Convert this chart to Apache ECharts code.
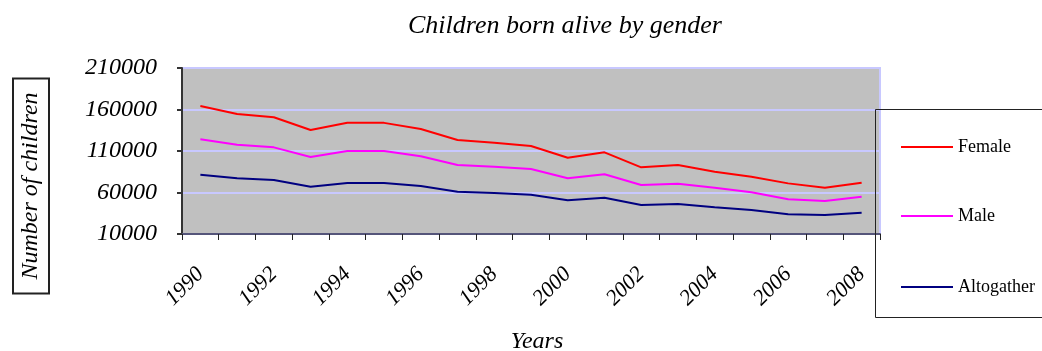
<!DOCTYPE html>
<html>
<head>
<meta charset="utf-8">
<script src="https://cdn.jsdelivr.net/npm/echarts@6/dist/echarts.min.js"></script>
<style>html,body{margin:0;padding:0;background:#fff}#c{width:1042px;height:351px}</style>
</head>
<body>
<div id="c"></div>
<script>
const years = ['1990','1991','1992','1993','1994','1995','1996','1997','1998','1999','2000','2001','2002','2003','2004','2005','2006','2007','2008'];
const female = [164200,154600,150600,135300,144100,143900,136500,123300,120000,116000,101900,108400,90300,93100,85100,79000,71000,65800,71800];
const male = [124100,117600,114400,102800,110000,110000,103600,93100,91100,88300,77100,81900,69000,70600,65800,60200,51800,49800,54900];
const altogather = [81500,77100,75100,67000,71400,71400,67800,61000,59400,57300,50600,53700,44900,46100,42100,38900,33700,32900,35700];
const yTicks = [10000, 60000, 110000, 160000, 210000];

const serif = '"Liberation Serif", "Times New Roman", serif';
const chart = echarts.init(document.getElementById('c'), null, {renderer: 'canvas'});
chart.setOption({
  animation: false,
  backgroundColor: '#fff',
  title: {
    text: 'Children born alive by gender',
    left: 403, top: 8,
    textStyle: {fontFamily: serif, fontStyle: 'italic', fontWeight: 'normal', fontSize: 26, color: '#000'}
  },
  grid: {left: 182, top: 68, right: 162, bottom: 117, outerBoundsMode: 'none', containLabel: false,
         show: true, backgroundColor: '#c0c0c0', borderColor: '#c8c8ff', borderWidth: 2},
  legend: [
    {data: ['Female'], orient: 'vertical', left: 896, top: 133},
    {data: ['Male'], orient: 'vertical', left: 896, top: 202},
    {data: ['Altogather'], orient: 'vertical', left: 896, top: 273}
  ].map(l => Object.assign(l, {icon: 'rect', itemWidth: 52, itemHeight: 2, textStyle: {fontFamily: serif, fontSize: 18, color: '#000', lineHeight: 18}})),
  xAxis: {
    type: 'category', data: years, boundaryGap: true,
    name: 'Years', nameLocation: 'middle', nameGap: 96,
    nameTextStyle: {fontFamily: serif, fontStyle: 'italic', fontSize: 24, color: '#000', padding: [0, 0, 0, 12]},
    axisLine: {lineStyle: {color: '#55557a', width: 2}},
    axisTick: {show: true, interval: 0, length: 6, lineStyle: {color: '#222', width: 1}},
    axisLabel: {interval: 1, rotate: 45, margin: 37, fontFamily: serif, fontStyle: 'italic', fontSize: 22, color: '#000'},
    splitLine: {show: false}
  },
  yAxis: {
    type: 'value', min: yTicks[0], max: yTicks[yTicks.length - 1], interval: yTicks[1] - yTicks[0],
    axisLine: {show: true, lineStyle: {color: '#333', width: 2}},
    axisTick: {show: true, length: 5, lineStyle: {color: '#333', width: 2}},
    axisLabel: {margin: 25, fontFamily: serif, fontStyle: 'italic', fontSize: 24, color: '#000', formatter: v => String(v)},
    splitLine: {show: true, lineStyle: {color: '#c8c8ff', width: 2}}
  },
  series: [
    {name: 'Female', type: 'line', data: female, symbol: 'none', lineStyle: {color: '#ff0000', width: 2}, itemStyle: {color: '#ff0000'}},
    {name: 'Male', type: 'line', data: male, symbol: 'none', lineStyle: {color: '#ff00ff', width: 2}, itemStyle: {color: '#ff00ff'}},
    {name: 'Altogather', type: 'line', data: altogather, symbol: 'none', lineStyle: {color: '#000080', width: 2}, itemStyle: {color: '#000080'}}
  ],
  graphic: [
    {type: 'rect', left: 873, top: 107, shape: {width: 180, height: 208}, style: {fill: 'none', stroke: '#222', lineWidth: 1}, z: 100},
    {type: 'text', x: 31, y: 186, rotation: Math.PI / 2, z: 100,
     style: {text: 'Number of children', font: 'italic 24px ' + serif, fill: '#000', align: 'center', verticalAlign: 'middle',
             borderColor: '#222', borderWidth: 2, padding: [6, 14, 6, 14]}}
  ]
});
</script>
</body>
</html>
